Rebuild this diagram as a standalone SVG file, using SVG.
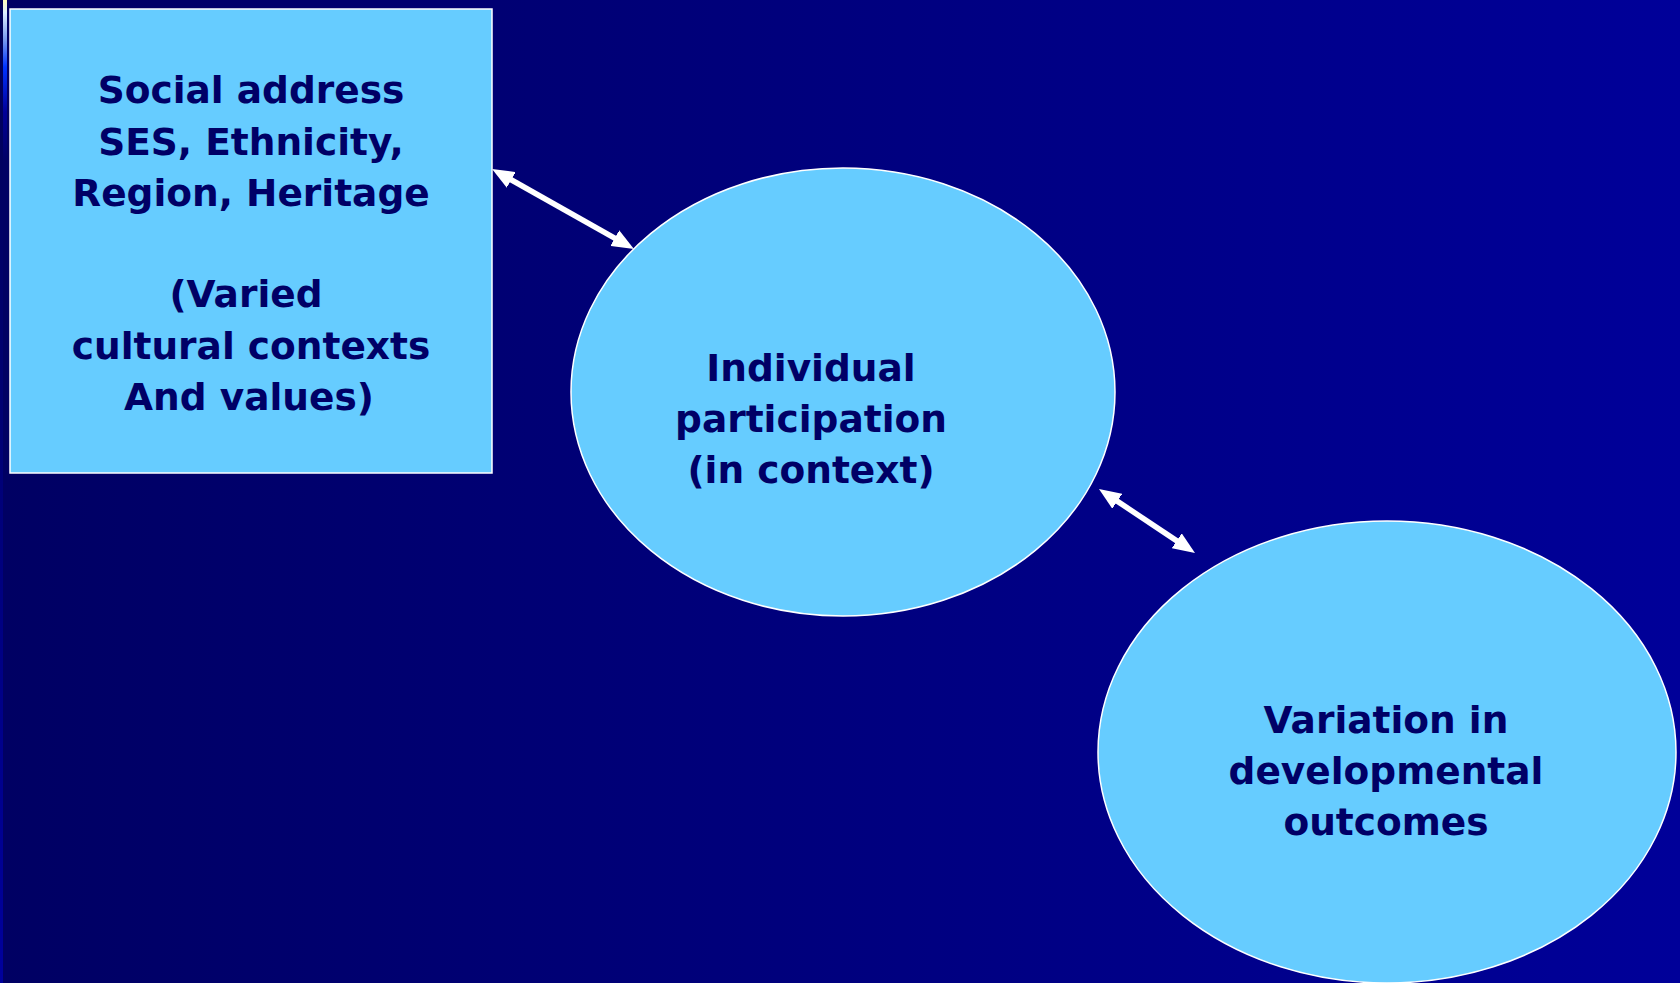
<svg xmlns="http://www.w3.org/2000/svg" width="1680" height="983" viewBox="0 0 1680 983">
  <defs>
    <linearGradient id="bg" x1="0" y1="0" x2="1" y2="0">
      <stop offset="0" stop-color="#000063"/>
      <stop offset="1" stop-color="#000099"/>
    </linearGradient>
    <linearGradient id="edge" x1="0" y1="0" x2="0" y2="1">
      <stop offset="0" stop-color="#000055"/>
      <stop offset="1" stop-color="#00009c"/>
    </linearGradient>
    <linearGradient id="bar" x1="0" y1="0" x2="0" y2="1">
      <stop offset="0" stop-color="#ffffbb"/>
      <stop offset="0.08" stop-color="#ddeeff"/>
      <stop offset="0.25" stop-color="#7799ee"/>
      <stop offset="0.42" stop-color="#0033ff"/>
      <stop offset="0.7" stop-color="#000099"/>
      <stop offset="1" stop-color="#000066"/>
    </linearGradient>
    <marker id="ah" viewBox="0 0 22 18" refX="6" refY="9" markerWidth="22" markerHeight="18" markerUnits="userSpaceOnUse" orient="auto-start-reverse">
      <path d="M0,0 L22,9 L0,18 z" fill="#ffffff"/>
    </marker>
    <style>
      .node { fill: #66ccff; stroke: #ffffff; stroke-width: 1.5; }
      .lbl { font-family: "DejaVu Sans", Verdana, sans-serif; font-weight: bold; font-size: 37.5px; fill: #000066; text-anchor: middle; }
      .conn { stroke: #ffffff; stroke-width: 5.5; fill: none; marker-start: url(#ah); marker-end: url(#ah); }
    </style>
  </defs>

  <rect x="0" y="0" width="1680" height="983" fill="url(#bg)"/>
  <rect x="0" y="0" width="3" height="983" fill="url(#edge)"/>
  <rect x="3" y="0" width="4" height="160" fill="url(#bar)"/>

  <g id="connectors">
    <line class="conn" x1="506" y1="176.9" x2="620" y2="241.1"/>
    <line class="conn" x1="1112.3" y1="497.9" x2="1181.7" y2="544.1"/>
  </g>

  <g id="social-address">
    <rect class="node" x="10" y="9" width="482" height="464"/>
    <text class="lbl" x="251" y="103">Social address</text>
    <text class="lbl" x="251" y="155">SES, Ethnicity,</text>
    <text class="lbl" x="251" y="206">Region, Heritage</text>
    <text class="lbl" x="246" y="307">(Varied</text>
    <text class="lbl" x="251" y="359">cultural contexts</text>
    <text class="lbl" x="249" y="410">And values)</text>
  </g>

  <g id="individual-participation">
    <ellipse class="node" cx="843" cy="392" rx="272" ry="224"/>
    <text class="lbl" x="811" y="381">Individual</text>
    <text class="lbl" x="811" y="432">participation</text>
    <text class="lbl" x="811" y="483">(in context)</text>
  </g>

  <g id="developmental-outcomes">
    <ellipse class="node" cx="1387" cy="752" rx="289" ry="231"/>
    <text class="lbl" x="1386" y="733">Variation in</text>
    <text class="lbl" x="1386" y="784">developmental</text>
    <text class="lbl" x="1386" y="835">outcomes</text>
  </g>
</svg>
